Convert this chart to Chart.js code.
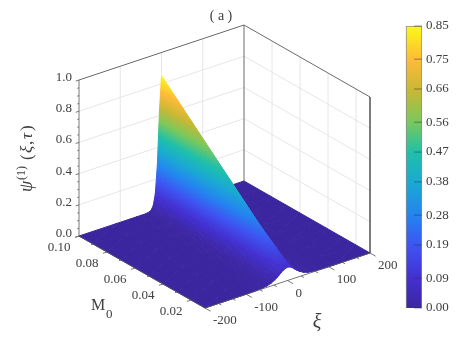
<!DOCTYPE html>
<html>
<head>
<meta charset="utf-8">
<script src="https://cdn.jsdelivr.net/npm/chart.js@4"></script>
<style>
html,body{margin:0;padding:0;background:#fff}
canvas{display:block}
</style>
</head>
<body>
<canvas id="surfaceChart" width="463" height="346"></canvas>
<script>
// surface: one row per M0, one column per xi
var mRows = [0.10,0.09,0.08,0.07,0.06,0.05,0.04,0.03,0.02,0.01];
var xiCols = [-200,-110,-80,-60,-50,-40,-30,-25,-20,-15,-10,-5,0,5,10,15,20,25,30,40,50,60,80,110,200];
var psiRows = [
 [0,0,0,0,0,0,.004,.012,.037,.108,.293,.627,.850,.627,.293,.108,.037,.012,.004,0,0,0,0,0,0],
 [0,0,0,0,0,.001,.005,.015,.041,.112,.291,.581,.765,.581,.291,.112,.041,.015,.005,.001,0,0,0,0,0],
 [0,0,0,0,0,.001,.006,.017,.046,.120,.281,.530,.680,.530,.281,.120,.046,.017,.006,.001,0,0,0,0,0],
 [0,0,0,0,0,.001,.008,.021,.052,.125,.274,.482,.595,.482,.274,.125,.052,.021,.008,.001,0,0,0,0,0],
 [0,0,0,0,0,.002,.010,.024,.059,.128,.258,.423,.510,.423,.258,.128,.059,.024,.010,.002,0,0,0,0,0],
 [0,0,0,0,.001,.003,.014,.030,.064,.130,.238,.364,.425,.364,.238,.130,.064,.030,.014,.003,.001,0,0,0,0],
 [0,0,0,0,.001,.004,.018,.036,.070,.129,.211,.299,.340,.299,.211,.129,.070,.036,.018,.004,.001,0,0,0,0],
 [0,0,0,.001,.002,.007,.024,.043,.074,.120,.177,.232,.255,.232,.177,.120,.074,.043,.024,.007,.002,.001,0,0,0],
 [0,0,0,.002,.004,.011,.030,.046,.070,.100,.133,.160,.170,.160,.133,.100,.070,.046,.030,.011,.004,.002,0,0,0],
 [0,0,.001,.005,.009,.017,.032,.042,.053,.065,.075,.082,.085,.082,.075,.065,.053,.042,.032,.017,.009,.005,.001,0,0]
];

// axes
var zTicks = [0,0.2,0.4,0.6,0.8,1];
var zMinor = [0.05,0.1,0.15,0.25,0.3,0.35,0.45,0.5,0.55,0.65,0.7,0.75,0.85,0.9,0.95];
var mTicks = [0.02,0.04,0.06,0.08,0.10];
var mMinor = [0.03,0.05,0.07,0.09];
var xiTicks = [-200,-100,0,100,200];
var xiMinor = [-167,-133,-67,-33,33,67,133,167];
var cbarTicks = [0,0.09,0.19,0.28,0.38,0.47,0.56,0.66,0.75,0.85];

// colour map, fraction of the colour bar -> rgb
var cmapAt = [0,0.11,0.22,0.33,0.44,0.55,0.66,0.77,0.88,1];
var cmapRgb = [[60,38,160],[68,48,210],[62,84,242],[36,132,240],[26,168,212],[30,192,170],[122,200,92],[200,184,52],[255,186,58],[250,250,20]];

var XI_MIN = -200, XI_MAX = 200, M_MIN = 0.01, M_MAX = 0.10, PSI_TOP = 0.85;
var SERIF = '"Liberation Serif","Times New Roman",serif';
var GREY = "#404040";

// view of the box, in plot units per full axis length
function project(xi, m, z) {
	var a = (xi - XI_MIN) / (XI_MAX - XI_MIN), b = (m - M_MIN) / (M_MAX - M_MIN);
	return {x: 205 + a * 165 - b * 126, y: a * 55 + b * 72 + z * 156};
}

function colorAt(f) {
	f = Math.max(0, Math.min(1, f));
	for (var i = 1; i < cmapAt.length; i++) {
		if (f <= cmapAt[i]) {
			var t = (f - cmapAt[i-1]) / (cmapAt[i] - cmapAt[i-1]);
			var c0 = cmapRgb[i-1], c1 = cmapRgb[i];
			return "rgb(" + Math.round(c0[0]+(c1[0]-c0[0])*t) + "," + Math.round(c0[1]+(c1[1]-c0[1])*t) + "," + Math.round(c0[2]+(c1[2]-c0[2])*t) + ")";
		}
	}
	return "rgb(250,250,20)";
}

// linear gradient that matches psi across one triangle of the mesh
function triangleFill(ctx) {
	var chart = ctx.chart, ds = ctx.dataset;
	var sx = chart.scales.px, sy = chart.scales.py;
	var p = ds.data.slice(0,3).map(function(d){ return [sx.getPixelForValue(d.x), sy.getPixelForValue(d.y)]; });
	var v = ds.vals;
	var lo = Math.min(v[0],v[1],v[2]), hi = Math.max(v[0],v[1],v[2]);
	var det = (p[1][0]-p[0][0])*(p[2][1]-p[0][1]) - (p[2][0]-p[0][0])*(p[1][1]-p[0][1]);
	if (!isFinite(det) || hi - lo < 0.002 || Math.abs(det) < 0.05) return colorAt((lo+hi)/2/PSI_TOP);
	var gx = ((v[1]-v[0])*(p[2][1]-p[0][1]) - (v[2]-v[0])*(p[1][1]-p[0][1])) / det;
	var gy = ((p[1][0]-p[0][0])*(v[2]-v[0]) - (p[2][0]-p[0][0])*(v[1]-v[0])) / det;
	var gg = gx*gx + gy*gy;
	var iLo = v.indexOf(lo);
	var x0 = p[iLo][0], y0 = p[iLo][1];
	var grad = chart.ctx.createLinearGradient(x0, y0, x0 + gx*(hi-lo)/gg, y0 + gy*(hi-lo)/gg);
	grad.addColorStop(0, colorAt(lo/PSI_TOP));
	cmapAt.forEach(function(f){
		var val = f*PSI_TOP;
		if (val > lo && val < hi) grad.addColorStop((val-lo)/(hi-lo), colorAt(f));
	});
	grad.addColorStop(1, colorAt(hi/PSI_TOP));
	return grad;
}

function lineSet(segments, color, width) {
	var pts = [];
	segments.forEach(function(s){
		s.forEach(function(q){ pts.push(project(q[0],q[1],q[2])); });
		pts.push({x:NaN,y:NaN});
	});
	return {data:pts, xAxisID:"px", yAxisID:"py", showLine:true, borderColor:color, borderWidth:width, pointRadius:0, fill:false, clip:false, tension:0};
}

var drawList = []; // back to front

// walls
var gridSegs = [];
zTicks.slice(1,5).forEach(function(z){
	gridSegs.push([[XI_MIN,M_MAX,z],[XI_MAX,M_MAX,z],[XI_MAX,M_MIN,z]]);
});
[-100,0,100].forEach(function(x){ gridSegs.push([[x,M_MAX,0],[x,M_MAX,1]]); });
mTicks.slice(0,4).forEach(function(m){ gridSegs.push([[XI_MAX,m,0],[XI_MAX,m,1]]); });
drawList.push(lineSet(gridSegs,"#e6e6e6",1));
drawList.push(lineSet([
	[[XI_MIN,M_MAX,1],[XI_MAX,M_MAX,1],[XI_MAX,M_MIN,1],[XI_MAX,M_MIN,0]],
	[[XI_MAX,M_MAX,0],[XI_MAX,M_MAX,1]]
],"#6a6a6a",1));

// mesh, far row first and far column first so that the near side covers the rest
for (var r = 0; r < mRows.length - 1; r++) {
	for (var c = xiCols.length - 1; c > 0; c--) {
		var a = [xiCols[c],mRows[r],psiRows[r][c]], b = [xiCols[c-1],mRows[r],psiRows[r][c-1]];
		var d = [xiCols[c],mRows[r+1],psiRows[r+1][c]], e = [xiCols[c-1],mRows[r+1],psiRows[r+1][c-1]];
		[[a,b,e],[a,e,d]].forEach(function(t){
			var pts = t.map(function(q){ return project(q[0],q[1],q[2]); });
			pts.push(pts[0]);
			drawList.push({data:pts, vals:t.map(function(q){ return q[2]; }), xAxisID:"px", yAxisID:"py", showLine:true, fill:"shape",
				backgroundColor:triangleFill, borderColor:triangleFill, borderWidth:1, pointRadius:0, clip:false, tension:0});
		});
	}
}

// axis lines and tick marks
var tickSegs = [[[XI_MIN,M_MAX,0],[XI_MIN,M_MAX,1]], [[XI_MIN,M_MAX,0],[XI_MIN,M_MIN,0],[XI_MAX,M_MIN,0]]];
zTicks.forEach(function(z){ tickSegs.push([[XI_MIN,M_MAX,z],[XI_MIN-8,M_MAX,z]]); });
zMinor.forEach(function(z){ tickSegs.push([[XI_MIN,M_MAX,z],[XI_MIN-4,M_MAX,z]]); });
mTicks.forEach(function(m){ tickSegs.push([[XI_MIN,m,0],[XI_MIN-10,m,0]]); });
mMinor.forEach(function(m){ tickSegs.push([[XI_MIN,m,0],[XI_MIN-5,m,0]]); });
xiTicks.forEach(function(x){ tickSegs.push([[x,M_MIN,0],[x,M_MIN-0.004,0]]); });
xiMinor.forEach(function(x){ tickSegs.push([[x,M_MIN,0],[x,M_MIN-0.002,0]]); });
drawList.push(lineSet(tickSegs,"#555",0.8));

// colour bar
drawList.push({type:"bar", data:[{x:414,y:[0,PSI_TOP]}], xAxisID:"px", yAxisID:"cb", barThickness:16, borderWidth:1, borderColor:"#8c8c8c",
	backgroundColor:function(ctx){
		var s = ctx.chart.scales.cb;
		var y0 = s.getPixelForValue(0), y1 = s.getPixelForValue(PSI_TOP);
		if (!isFinite(y0) || !isFinite(y1)) return colorAt(0.5);
		var g = ctx.chart.ctx.createLinearGradient(0, y0, 0, y1);
		cmapAt.forEach(function(f){ g.addColorStop(f, colorAt(f)); });
		return g;
	}});
drawList.push({data:cbarTicks.map(function(v){ return {x:418,y:v}; }), xAxisID:"px", yAxisID:"cb", showLine:false, pointStyle:"line", pointRadius:4, pointBorderWidth:1, pointBorderColor:"rgba(50,50,50,.5)", clip:false});

// chart.js paints the first dataset on top
var datasets = drawList.slice().reverse();

function label(chart, text, xi, m, z, dx, dy, font, align) {
	var c = chart.ctx;
	var p = project(xi,m,z);
	c.font = font;
	c.textAlign = align;
	c.textBaseline = "middle";
	c.fillStyle = GREY;
	c.fillText(text, chart.scales.px.getPixelForValue(p.x)+dx, chart.scales.py.getPixelForValue(p.y)+dy);
}

var axisText = {
	id:"axisText",
	afterDraw:function(chart){
		var c = chart.ctx;
		c.save();
		zTicks.forEach(function(z){ label(chart, z.toFixed(1), XI_MIN, M_MAX, z, -7, -2.5, "13px "+SERIF, "right"); });
		mTicks.forEach(function(m){ label(chart, m.toFixed(2), XI_MIN, m, 0, -20, 12, "13px "+SERIF, "center"); });
		xiTicks.forEach(function(x){ label(chart, String(x), x, M_MIN, 0, 8, 13, "13px "+SERIF, "left"); });
		// axis names
		label(chart, "\u03BE", XI_MIN+280, M_MIN, 0, -3.5, 53, "italic 20px "+SERIF, "center");
		label(chart, "M", XI_MIN, 0.04, 0, -72, 22, "16px "+SERIF, "left");
		label(chart, "0", XI_MIN, 0.04, 0, -57, 31, "13px "+SERIF, "left");
		c.translate(26, 192);
		c.rotate(-Math.PI/2);
		c.textAlign = "left";
		c.textBaseline = "alphabetic";
		c.fillStyle = GREY;
		c.font = "italic 18px "+SERIF;
		c.fillText("\u03C8", 0, 6);
		c.font = "12px "+SERIF;
		c.fillText("(1)", 12, -1);
		c.font = "17px "+SERIF;
		c.fillText("(", 32, 6);
		c.font = "italic 17px "+SERIF;
		c.fillText("\u03BE", 39, 6);
		c.font = "17px "+SERIF;
		c.fillText(",", 47, 6);
		c.font = "italic 17px "+SERIF;
		c.fillText("\u03C4", 53, 6);
		c.font = "17px "+SERIF;
		c.fillText(")", 61, 6);
		c.restore();
	}
};

new Chart(document.getElementById("surfaceChart").getContext("2d"), {
	type:"scatter",
	data:{datasets:datasets},
	plugins:[axisText],
	options:{
		responsive:false,
		animation:false,
		events:[],
		layout:{padding:{left:20,right:0,top:0,bottom:38}},
		plugins:{
			legend:{display:false},
			tooltip:{enabled:false},
			title:{display:true, text:"( a )", fullSize:false, color:GREY, font:{family:SERIF,size:14,weight:"normal"}, padding:{top:8,bottom:1.2}}
		},
		scales:{
			px:{type:"linear", axis:"x", position:"bottom", display:false, offset:false, min:20, max:422},
			py:{type:"linear", axis:"y", position:"left", display:false, min:0, max:282},
			cb:{type:"linear", position:"right", min:0, max:PSI_TOP,
				afterBuildTicks:function(s){ s.ticks = cbarTicks.map(function(v){ return {value:v}; }); },
				afterFit:function(s){ s.width = 41; },
				grid:{display:false,drawTicks:false},
				border:{display:false},
				ticks:{padding:4, color:GREY, font:{family:SERIF,size:13}, autoSkip:false, callback:function(v){ return Number(v).toFixed(2); }}
			}
		}
	}
});
</script>
</body>
</html>
